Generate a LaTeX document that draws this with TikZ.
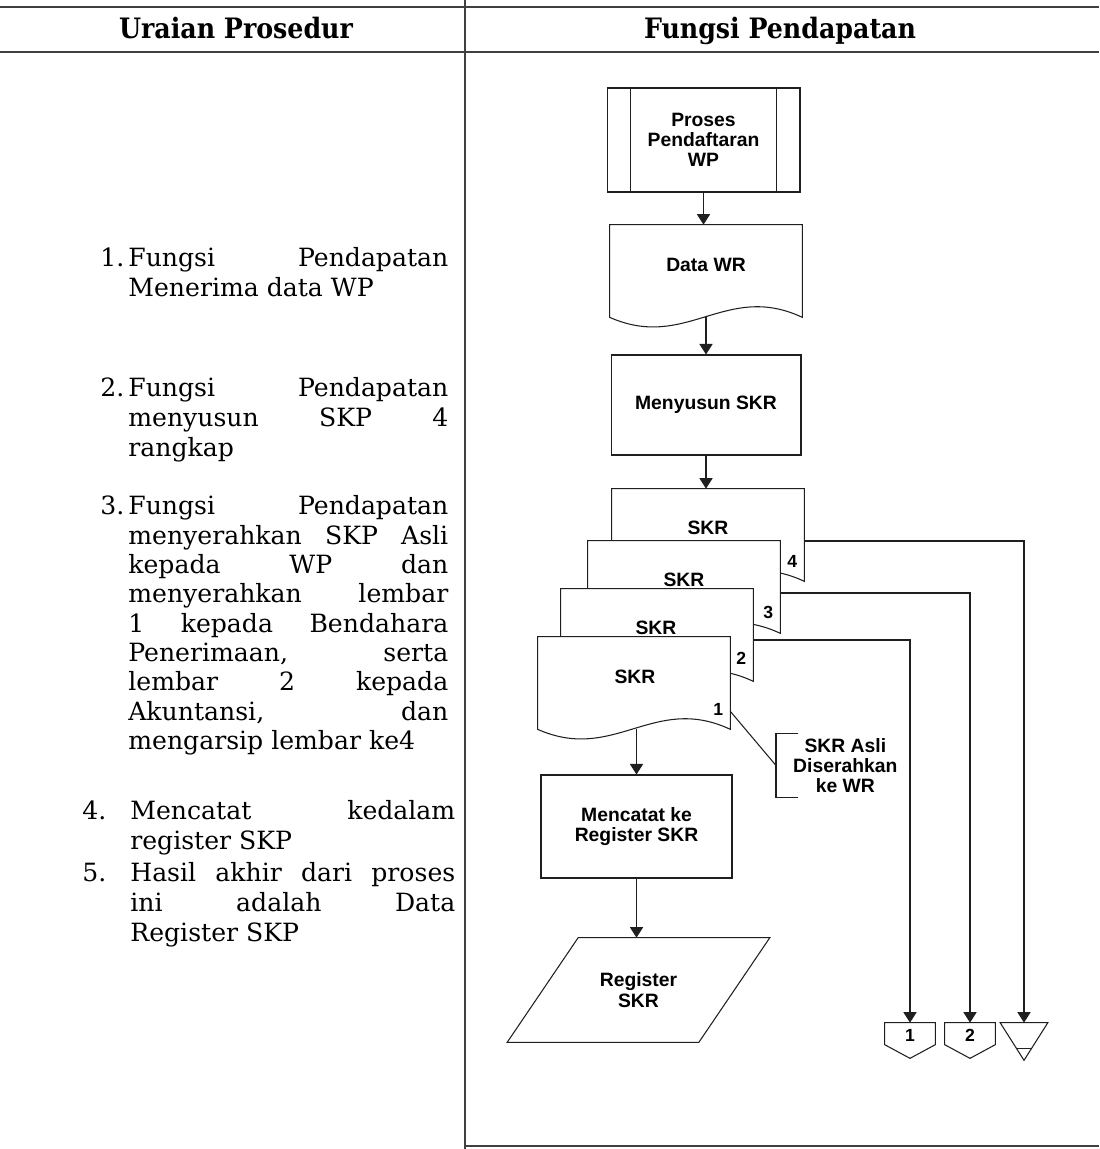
\documentclass[tikz,border=0pt]{standalone}
\usepackage{fontspec}
\setmainfont{DejaVu Serif}
\newfontfamily\flowfont{Liberation Sans}
\newfontfamily\headfont{DejaVu Serif Condensed}
\usetikzlibrary{calc,arrows.meta}

% justified line of the procedure column
\newcommand\jline[2][6.4cm]{\makebox[#1][s]{#2}}
% document symbol drawn on the anchors of a plain node
\newcommand\docshape[1]{%
  \draw[line,fill=white] (#1.south west) -- (#1.north west) -- (#1.north east) -- (#1.south east)
    .. controls ($(#1.south east)+(-76.8,-36)$) and ($(#1.south west)+(76.8,34)$) .. (#1.south west) -- cycle;}

\begin{document}
\begin{tikzpicture}[x=0.02cm,y=-0.02cm,
  line/.style={draw=black!88,line width=0.6pt},
  arr/.style={line,-{Triangle[width=7.5pt,length=6pt]}},
  rule/.style={draw=black!75,line width=0.9pt},
  fc/.style={font=\flowfont\bfseries\fontsize{11}{11.5}\selectfont,align=center,inner sep=0pt},
  num/.style={font=\flowfont\bfseries\fontsize{10}{10}\selectfont,inner sep=0pt},
  docnode/.style={minimum width=3.84cm,minimum height=1.84cm,inner sep=0pt},
  item/.style={anchor=mid west,inner sep=0pt,font=\fontsize{14.3}{14.3}\selectfont},
  head/.style={anchor=base,font=\headfont\bfseries\fontsize{16}{16}\selectfont,inner sep=0pt}
]
\useasboundingbox (0,0) rectangle (1099,1149);

% table frame
\draw[rule] (0,7) -- (1099,7);
\draw[rule] (0,52) -- (1099,52);
\draw[rule] (465,0) -- (465,1149);
\draw[rule] (465,1146) -- (1099,1146);
\node[head] (h1) at (236,39) {Uraian Prosedur};
\node[head] (h2) at (780,39) {Fungsi Pendapatan};

% procedure descriptions
\node[item] (n1) at (100,262) {1.};
\node[item] (t1a) at (128,262) {\jline{Fungsi Pendapatan}};
\node[item] (t1b) at (128,292) {Menerima data WP};

\node[item] (n2) at (100,392) {2.};
\node[item] (t2a) at (128,392) {\jline{Fungsi Pendapatan}};
\node[item] (t2b) at (128,422) {\jline{menyusun SKP 4}};
\node[item] (t2c) at (128,452) {rangkap};

\node[item] (n3) at (100,510) {3.};
\node[item] (t3a) at (128,510) {\jline{Fungsi Pendapatan}};
\node[item] (t3b) at (128,540) {\jline{menyerahkan SKP Asli}};
\node[item] (t3c) at (128,569) {\jline{kepada WP dan}};
\node[item] (t3d) at (128,598) {\jline{menyerahkan lembar}};
\node[item] (t3e) at (128,628) {\jline{1 kepada Bendahara}};
\node[item] (t3f) at (128,657) {\jline{Penerimaan, serta}};
\node[item] (t3g) at (128,686) {\jline{lembar 2 kepada}};
\node[item] (t3h) at (128,716) {\jline{Akuntansi, dan}};
\node[item] (t3i) at (128,745) {mengarsip lembar ke4};

\node[item] (n4) at (82,815) {4.};
\node[item] (t4a) at (130,815) {\jline[6.5cm]{Mencatat kedalam}};
\node[item] (t4b) at (130,845) {register SKP};

\node[item] (n5) at (82,877) {5.};
\node[item] (t5a) at (130,877) {\jline[6.5cm]{Hasil akhir dari proses}};
\node[item] (t5b) at (130,907) {\jline[6.5cm]{ini adalah Data}};
\node[item] (t5c) at (130,937) {Register SKP};

% flowchart
\node[fc,line,minimum width=3.86cm,minimum height=2.08cm] (proc) at (703.5,140) {Proses\\Pendaftaran\\WP};
\draw[line] ($(proc.north west)+(24,0)$) -- ($(proc.south west)+(24,0)$);
\draw[line] ($(proc.north east)+(-24,0)$) -- ($(proc.south east)+(-24,0)$);

\node[docnode] (dwr) at (706,271) {};
\docshape{dwr}
\node[fc] (dwrt) at (706,265) {Data WR};

\node[fc,line,fill=white,minimum width=3.8cm,minimum height=2cm] (sus) at (706,405) {Menyusun SKR};

% four copies of the SKR
\node[docnode] (skr4) at (708,535) {};
\node[docnode] (skr3) at (684,587) {};
\node[docnode] (skr2) at (657,635) {};
\node[docnode] (skr1) at (634,683) {};
\docshape{skr4}
\node[fc] (skr4t) at (708,528) {SKR};
\node[num] (skr4n) at ($(skr4.south east)+(-12,-20)$) {4};
\docshape{skr3}
\node[fc] (skr3t) at (684,580) {SKR};
\node[num] (skr3n) at ($(skr3.south east)+(-12,-21)$) {3};
\docshape{skr2}
\node[fc] (skr2t) at (656,628) {SKR};
\node[num] (skr2n) at ($(skr2.south east)+(-12,-23)$) {2};
\docshape{skr1}
\node[fc] (skr1t) at (635,677) {SKR};
\node[num] (skr1n) at ($(skr1.south east)+(-12,-20)$) {1};

\node[fc,line,fill=white,minimum width=3.82cm,minimum height=2.06cm] (cat) at (636.5,826.5) {Mencatat ke\\Register SKR};

\node[fc,minimum width=3.82cm,minimum height=2.08cm] (reg) at (638.5,990) {Register\\SKR};
\draw[line] ($(reg.north west)+(35.5,0)$) -- ($(reg.north east)+(35.5,0)$)
  -- ($(reg.south east)+(-35.5,0)$) -- ($(reg.south west)+(-35.5,0)$) -- cycle;

% annotation for the original copy
\node[fc,minimum width=2.76cm,minimum height=1.26cm,anchor=west] (ann) at (776,765.5) {SKR Asli\\Diserahkan\\ke WR};
\draw[line] ($(ann.north west)+(22,0)$) -- (ann.north west) -- (ann.south west) -- ($(ann.south west)+(22,0)$);
\coordinate (a1) at ($(skr1.south east)+(0,-18)$);
\draw[line] (a1) -- (ann.west);

% off-page connectors
\node[minimum width=1cm,minimum height=0.7cm,inner sep=0pt] (off1) at (910,1040.5) {};
\node[minimum width=1cm,minimum height=0.7cm,inner sep=0pt] (off2) at (970,1040.5) {};
\node[minimum width=0.94cm,minimum height=0.74cm,inner sep=0pt] (off3) at (1024,1041.5) {};
\draw[line] (off1.north west) -- (off1.north east) -- ($(off1.north east)+(0,22)$) -- (off1.south) -- ($(off1.north west)+(0,22)$) -- cycle;
\draw[line] (off2.north west) -- (off2.north east) -- ($(off2.north east)+(0,22)$) -- (off2.south) -- ($(off2.north west)+(0,22)$) -- cycle;
\draw[line] (off3.north west) -- (off3.north east) -- (off3.south) -- cycle;
\draw[line] ($(off3.south)+(-7.6,-12)$) -- ($(off3.south)+(7.6,-12)$);
\node[num] (off1t) at (910,1035) {1};
\node[num] (off2t) at (970,1035) {2};

% connectors
\draw[arr] (proc.south) -- (proc.south |- dwr.north);
\draw[arr] (dwr.south) -- (sus.north);
\draw[arr] (sus.south) -- (sus.south |- skr4.north);
\draw[arr] (cat.north |- skr1.south) -- (cat.north);
\draw[arr] (cat.south) -- (cat.south |- reg.north);
\coordinate (o4) at ($(skr4.east)+(0,6)$);
\coordinate (o3) at ($(skr3.east)+(0,6)$);
\coordinate (o2) at ($(skr2.east)+(0,5)$);
\draw[arr] (o4) -| (off3.north);
\draw[arr] (o3) -| (off2.north);
\draw[arr] (o2) -| (off1.north);
\end{tikzpicture}
\end{document}
